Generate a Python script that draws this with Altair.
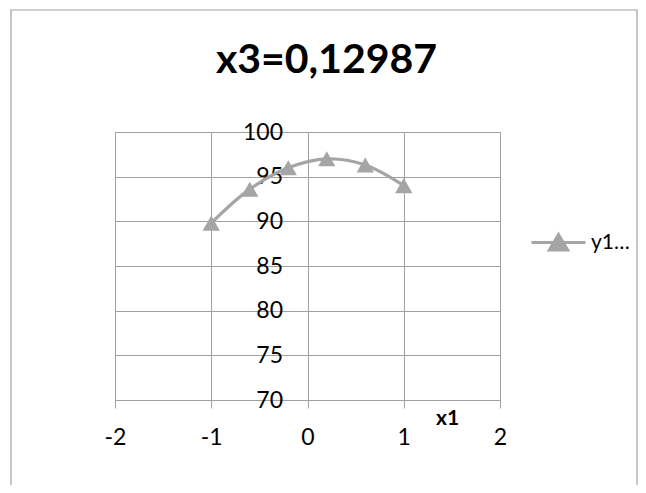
import altair as alt
import pandas as pd

# ---- data ----
x1 = [-1.0, -0.6, -0.2, 0.2, 0.6, 1.0]
y1 = [89.8, 93.6, 96.0, 97.0, 96.3, 94.0]
series = ["y1…"] * len(x1)
x_ticks = [-2, -1, 0, 1, 2]
y_ticks = [70, 75, 80, 85, 90, 95, 100]
title_text = "x3=0,12987"
x_title = "x1"

df = pd.DataFrame({"x1": x1, "y": y1, "series": series})

W, H = 385, 268
GRAY = "#a5a5a5"
GRID = "#a0a0a0"
FRAME = "#a0a0a0"
FONT = "Lato"

legend_symbol = "M-1,0H1M0,-0.3L0.34,0.28L-0.34,0.28Z"
marker = "M0,-0.87L1,0.87L-1,0.87Z"

x_enc = alt.X(
    "x1:Q",
    scale=alt.Scale(domain=[-2, 2], nice=False, zero=False),
    axis=alt.Axis(
        values=x_ticks, title=x_title, grid=True, gridColor=GRID,
        domainColor=GRID, tickColor=GRID, tickSize=8, labelPadding=18,
        labelFont=FONT, labelFontSize=23, labelColor="black",
        labelExpr="'' + datum.value",
        titleFont=FONT, titleFontSize=21, titleFontWeight="bold", titleColor="black",
        titleX=332, titleY=24, titleAlign="center", titleBaseline="alphabetic",
        labelFlush=False,
    ),
)
y_enc = alt.Y(
    "y:Q",
    scale=alt.Scale(domain=[70, 100], nice=False, zero=False),
    axis=alt.Axis(
        values=y_ticks, title=None, grid=True, gridColor=GRID, domain=False,
        tickColor=GRID, tickSize=8, labelPadding=17, offset=-W / 2,
        labelFont=FONT, labelFontSize=23, labelColor="black", labelFlush=False,
        labelExpr="'' + datum.value",
    ),
)

color_enc = alt.Color(
    "series:N",
    scale=alt.Scale(range=[GRAY]),
    legend=alt.Legend(
        title=None, orient="none", legendX=415, legendY=82,
        symbolType=legend_symbol, symbolSize=2916, symbolStrokeWidth=3,
        symbolStrokeColor=GRAY, symbolFillColor=GRAY, symbolOpacity=1,
        labelFont=FONT, labelFontSize=21, labelColor="black",
        labelOffset=4, padding=0, labelLimit=200,
    ),
)

frame = alt.Chart(alt.Data(values=[{"a": 1}])).mark_rect(
    fill="transparent", stroke=FRAME, strokeWidth=1.2
).encode(x=alt.value(-104), x2=alt.value(522), y=alt.value(-122), y2=alt.value(H + 140))

line = alt.Chart(df).mark_line(
    interpolate="catmull-rom", strokeWidth=3.2, color=GRAY
).encode(x=x_enc, y=y_enc)

points = alt.Chart(df).mark_point(
    shape=marker, filled=True, size=300, opacity=1
).encode(x=x_enc, y=y_enc, color=color_enc)

chart = alt.layer(frame, line, points).properties(
    width=W,
    height=H,
    padding={"left": 107, "top": 124, "right": 138, "bottom": 85},
    autosize=alt.AutoSizeParams(type="none"),
    title=alt.TitleParams(
        title_text, font=FONT, fontSize=41, fontWeight="bold", color="black",
        anchor="middle", frame="group", dx=19, offset=-73,
    ),
).configure_view(stroke=GRID)

chart.save("out.html", embed_options={"renderer": "svg", "actions": False})
